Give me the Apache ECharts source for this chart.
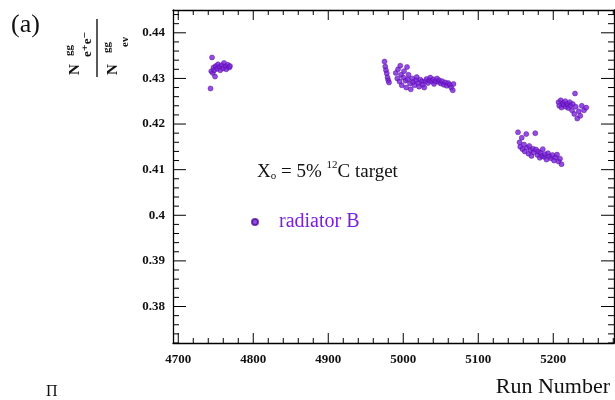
<!DOCTYPE html>
<html>
<head>
<meta charset="utf-8">
<script src="https://cdn.jsdelivr.net/npm/echarts@6/dist/echarts.min.js"></script>
<style>
  html, body { margin: 0; padding: 0; background: #fff; }
  #chart { width: 615px; height: 400px; }
</style>
</head>
<body>
<div id="chart"></div>
<script>
// Run-by-run ratio, grouped by run period
const runsP1 = [4743, 4744, 4745, 4746, 4747, 4748, 4749, 4750, 4752, 4753, 4755, 4756, 4758, 4760, 4761, 4763, 4764, 4766, 4768, 4769];
const ratioP1 = [0.4278, 0.4316, 0.4346, 0.4312, 0.4324, 0.4318, 0.4304, 0.4327, 0.4321, 0.4331, 0.4325, 0.4318, 0.4329, 0.4322, 0.4334, 0.4326, 0.4320, 0.4330, 0.4324, 0.4327];

const runsP2 = [4975, 4976, 4977, 4978, 4979, 4980, 4981, 4990, 4992, 4993, 4995, 4996, 4997, 4998, 5000, 5001, 5003, 5004, 5005, 5006, 5007, 5009, 5010, 5012, 5013, 5015, 5017, 5018, 5020, 5021, 5023, 5025, 5026, 5028, 5030, 5031, 5033, 5035, 5036, 5038, 5040, 5041, 5043, 5045, 5047, 5048, 5050, 5052, 5054, 5056, 5058, 5060, 5062, 5064, 5066, 5067];
const ratioP2 = [0.4337, 0.4326, 0.4318, 0.4311, 0.4302, 0.4296, 0.4291, 0.4312, 0.4300, 0.4320, 0.4293, 0.4328, 0.4308, 0.4285, 0.4302, 0.4316, 0.4295, 0.4280, 0.4325, 0.4298, 0.4308, 0.4289, 0.4276, 0.4300, 0.4292, 0.4285, 0.4296, 0.4303, 0.4290, 0.4282, 0.4297, 0.4293, 0.4286, 0.4280, 0.4294, 0.4299, 0.4290, 0.4296, 0.4302, 0.4293, 0.4298, 0.4288, 0.4294, 0.4300, 0.4292, 0.4296, 0.4289, 0.4294, 0.4286, 0.4291, 0.4284, 0.4290, 0.4286, 0.4280, 0.4274, 0.4288];

const runsP3 = [5153, 5155, 5156, 5158, 5159, 5161, 5162, 5164, 5165, 5167, 5168, 5170, 5171, 5173, 5174, 5176, 5177, 5179, 5180, 5182, 5183, 5185, 5186, 5188, 5189, 5191, 5193, 5195, 5197, 5199, 5201, 5203, 5205, 5207, 5209, 5211];
const ratioP3 = [0.4182, 0.4160, 0.4150, 0.4170, 0.4145, 0.4155, 0.4140, 0.4178, 0.4148, 0.4135, 0.4152, 0.4142, 0.4130, 0.4146, 0.4138, 0.4180, 0.4144, 0.4132, 0.4140, 0.4126, 0.4137, 0.4130, 0.4145, 0.4128, 0.4134, 0.4122, 0.4136, 0.4129, 0.4125, 0.4132, 0.4120, 0.4127, 0.4133, 0.4118, 0.4124, 0.4112];

const runsP4 = [5207, 5208, 5210, 5211, 5213, 5214, 5216, 5217, 5219, 5220, 5222, 5223, 5225, 5226, 5228, 5229, 5230, 5232, 5234, 5236, 5238, 5241, 5244];
const ratioP4 = [0.4248, 0.4240, 0.4252, 0.4236, 0.4246, 0.4242, 0.4250, 0.4238, 0.4244, 0.4235, 0.4248, 0.4240, 0.4230, 0.4244, 0.4222, 0.4267, 0.4238, 0.4212, 0.4228, 0.4218, 0.4240, 0.4230, 0.4236];

// Tick labels
const xTickLabels = [4700, 4800, 4900, 5000, 5100, 5200];
const yTickLabels = [0.38, 0.39, 0.40, 0.41, 0.42, 0.43, 0.44];

const X_MIN = 4693, X_MAX = 5281;
const Y_MIN = 0.372, Y_MAX = 0.445;

const points = [];
[[runsP1, ratioP1], [runsP2, ratioP2], [runsP3, ratioP3], [runsP4, ratioP4]].forEach(([r, v]) => {
  r.forEach((run, i) => points.push([run, v[i]]));
});

// Tick marks on all four sides of the frame: [value, length in px]
function steps(from, to, step) {
  const out = [];
  const n = Math.round((to - from) / step);
  for (let i = 0; i <= n; i++) out.push(+(from + i * step).toFixed(4));
  return out;
}
const xTickMarks = steps(4700, 5280, 20).map(v => [v, xTickLabels.includes(v) ? 10 : 5]);
const yTickMarks = steps(0.372, 0.444, 0.002).map(v => [v, yTickLabels.some(t => Math.abs(t - v) < 1e-6) ? 13 : 6]);

const SERIF = '"Liberation Serif", "DejaVu Serif", serif';
const INK = '#111';
const PURPLE = '#7a1fdc';
const frameLine = { show: true, onZero: false, lineStyle: { color: '#000', width: 1.3 } };

function xAxisDef(position, withLabels) {
  return {
    type: 'value', position, min: X_MIN, max: X_MAX,
    axisLine: frameLine,
    splitLine: { show: false },
    axisTick: { show: false },
    axisLabel: withLabels ? {
      show: true, customValues: xTickLabels, margin: 10,
      fontFamily: SERIF, fontSize: 13, fontWeight: 'bold', color: INK,
      formatter: v => String(v)
    } : { show: false }
  };
}
function yAxisDef(position, withLabels) {
  return {
    type: 'value', position, min: Y_MIN, max: Y_MAX,
    axisLine: frameLine,
    splitLine: { show: false },
    axisTick: { show: false },
    axisLabel: withLabels ? {
      show: true, customValues: yTickLabels, margin: 8,
      fontFamily: SERIF, fontSize: 13, fontWeight: 'bold', color: INK,
      formatter: v => String(parseFloat((+v).toFixed(2)))
    } : { show: false }
  };
}

const tickLine = { stroke: '#000', lineWidth: 1 };
function renderXTicks(params, api) {
  const v = api.value(0), len = api.value(1);
  const b = api.coord([v, Y_MIN]);
  const t = api.coord([v, Y_MAX]);
  return { type: 'group', children: [
    { type: 'line', shape: { x1: b[0], y1: b[1], x2: b[0], y2: b[1] - len }, style: tickLine },
    { type: 'line', shape: { x1: t[0], y1: t[1], x2: t[0], y2: t[1] + len }, style: tickLine }
  ] };
}
function renderYTicks(params, api) {
  const v = api.value(0), len = api.value(1);
  const l = api.coord([X_MIN, v]);
  const r = api.coord([X_MAX, v]);
  return { type: 'group', children: [
    { type: 'line', shape: { x1: l[0], y1: l[1], x2: l[0] + len, y2: l[1] }, style: tickLine },
    { type: 'line', shape: { x1: r[0], y1: r[1], x2: r[0] - len, y2: r[1] }, style: tickLine }
  ] };
}

const chart = echarts.init(document.getElementById('chart'));
chart.setOption({
  animation: false,
  grid: { left: 173, right: 1, top: 10, bottom: 57 },
  xAxis: [xAxisDef('bottom', true), xAxisDef('top', false)],
  yAxis: [yAxisDef('left', true), yAxisDef('right', false)],
  legend: {
    left: 246, top: 207,
    itemWidth: 20, itemHeight: 6,
    itemGap: 0,
    icon: 'circle',
    data: ['radiator B'],
    textStyle: { fontFamily: SERIF, fontSize: 20, color: PURPLE, padding: [0, 0, 0, 9] }
  },
  series: [
    {
      type: 'custom', name: 'xTicks', silent: true, clip: false,
      xAxisIndex: 0, yAxisIndex: 0,
      renderItem: renderXTicks, data: xTickMarks
    },
    {
      type: 'custom', name: 'yTicks', silent: true, clip: false,
      xAxisIndex: 0, yAxisIndex: 0,
      renderItem: renderYTicks, data: yTickMarks
    },
    {
      name: 'radiator B',
      type: 'scatter',
      xAxisIndex: 0, yAxisIndex: 0,
      symbol: 'circle',
      symbolSize: 5,
      itemStyle: { color: PURPLE, borderColor: '#4f0c99', borderWidth: 0.6 },
      data: points
    }
  ],
  graphic: [
    { type: 'text', left: 11, top: 12,
      style: { text: '(a)', font: '26px ' + SERIF, fill: INK } },
    { type: 'group', x: 97, y: 48, rotation: Math.PI / 2,
      children: [
        { type: 'line', shape: { x1: -29, y1: 0, x2: 29, y2: 0 }, style: { stroke: '#000', lineWidth: 1.3 } },
        { type: 'text', x: -27, y: -14, style: { text: 'N', font: 'bold 15px ' + SERIF, fill: INK, verticalAlign: 'bottom' } },
        { type: 'text', x: -8, y: -22, style: { text: 'gg', font: 'bold 11px ' + SERIF, fill: INK, verticalAlign: 'bottom' } },
        { type: 'text', x: -9, y: -3, style: { text: 'e⁺e⁻', font: 'bold 13px ' + SERIF, fill: INK, verticalAlign: 'bottom' } },
        { type: 'text', x: -27, y: 24, style: { text: 'N', font: 'bold 15px ' + SERIF, fill: INK, verticalAlign: 'bottom' } },
        { type: 'text', x: -5, y: 16, style: { text: 'gg', font: 'bold 11px ' + SERIF, fill: INK, verticalAlign: 'bottom' } },
        { type: 'text', x: 1, y: 34, style: { text: 'eν', font: 'bold 11px ' + SERIF, fill: INK, verticalAlign: 'bottom' } }
      ]
    },
    { type: 'text', left: 257, top: 160,
      style: {
        text: '{m|X}{sub|o}{m| = 5% }{sup|12}{m|C target}',
        rich: {
          m: { font: '19px ' + SERIF, fill: INK, verticalAlign: 'bottom', lineHeight: 22 },
          sub: { font: '11px ' + SERIF, fill: INK, verticalAlign: 'bottom', lineHeight: 14 },
          sup: { font: '11px ' + SERIF, fill: INK, verticalAlign: 'top', lineHeight: 14 }
        }
      } },
    { type: 'text', right: 5, top: 376,
      style: { text: 'Run Number', font: '22px ' + SERIF, fill: INK } },
    { type: 'text', left: 46, top: 384,
      style: { text: 'Π', font: '16px ' + SERIF, fill: INK } }
  ]
});
</script>
</body>
</html>
